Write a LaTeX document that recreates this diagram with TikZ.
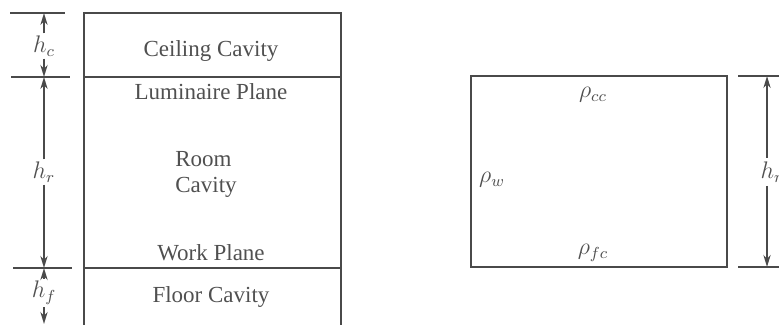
\documentclass[tikz,border=0pt]{standalone}
\usepackage{fontspec}
\setmainfont{Liberation Serif}
\usetikzlibrary{arrows.meta}
\definecolor{ink}{HTML}{4A4A4A}
\definecolor{txt}{HTML}{505050}
\tikzset{
  wall/.style={draw=ink, line width=1pt},
  tick/.style={draw=ink, line width=1pt},
  dimarrow/.style={draw=ink, line width=1pt, -{Stealth[length=6pt,width=3.6pt]}},
  lab/.style={text=txt, font=\fontsize{11.5}{14}\selectfont, inner sep=0pt},
  dimlab/.style={text=txt, font=\fontsize{12}{12}\selectfont, inner sep=1pt},
}
\begin{document}
\begin{tikzpicture}[x=0.5pt,y=-0.5pt]
\useasboundingbox (0,0) rectangle (779,325);
% left box
\draw[wall] (84,330) -- (84,13) -- (341,13) -- (341,330);
\draw[wall] (84,77) -- (341,77);
\draw[wall] (84,268) -- (341,268);
\node[lab, anchor=base] (ceil) at (211,57) {Ceiling Cavity};
\node[lab, anchor=base] (lum) at (211,100) {Luminaire Plane};
\node[lab, anchor=base west] (room) at (175,167) {Room};
\node[lab, anchor=base west] (cav) at (175,193) {Cavity};
\node[lab, anchor=base] (work) at (211,260) {Work Plane};
\node[lab, anchor=base] (floor) at (211,302) {Floor Cavity};
% left dimensions
\coordinate (t1a) at (10,13);  \coordinate (t1b) at (65,13);
\coordinate (t2a) at (11,77);  \coordinate (t2b) at (70,77);
\coordinate (t3a) at (13,268); \coordinate (t3b) at (72,268);
\draw[tick] (t1a) -- (t1b);
\draw[tick] (t2a) -- (t2b);
\draw[tick] (t3a) -- (t3b);
\coordinate (d1) at (44,13);
\coordinate (d2) at (44,77);
\coordinate (d3) at (44,268);
\coordinate (d4) at (44,324);
\node[dimlab] (hc) at (44,46) {$h_c$};
\node[dimlab] (hr) at (44,172) {$h_r$};
\node[dimlab] (hf) at (44,293) {$h_f$};
\draw[dimarrow] (hc.north) -- (d1);
\draw[dimarrow] (hc.south) -- (d2);
\draw[dimarrow] (hr.north) -- (d2);
\draw[dimarrow] (hr.south) -- (d3);
\draw[dimarrow] (hf.north) -- (d3);
\draw[dimarrow] (hf.south) -- (d4);
% right box
\draw[wall] (471,76) rectangle (727,267);
\node[lab] (rcc) at (593,95) {$\rho_{cc}$};
\node[lab] (rw) at (492,180) {$\rho_w$};
\node[lab] (rfc) at (593,253) {$\rho_{fc}$};
% right dimension
\coordinate (r1a) at (738,76);  \coordinate (r1b) at (790,76);
\coordinate (r2a) at (738,267); \coordinate (r2b) at (790,267);
\draw[tick] (r1a) -- (r1b);
\draw[tick] (r2a) -- (r2b);
\coordinate (e1) at (767,76);
\coordinate (e2) at (767,267);
\node[dimlab] (hr2) at (772,172) {$h_r$};
\draw[dimarrow] (767,158) -- (e1);
\draw[dimarrow] (767,186) -- (e2);
\end{tikzpicture}
\end{document}
